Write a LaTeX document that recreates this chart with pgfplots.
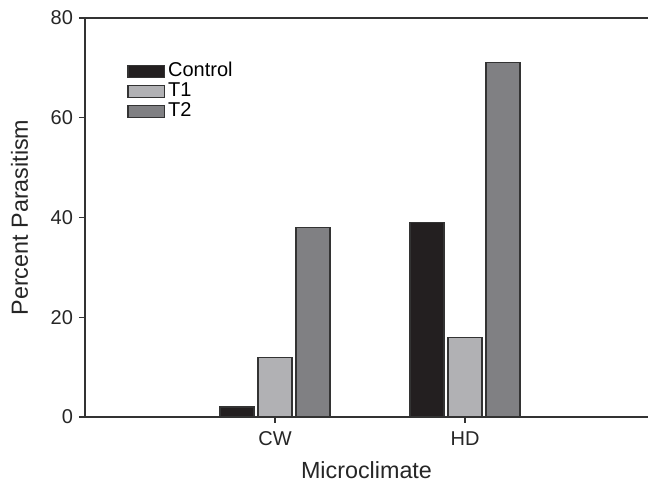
\documentclass[border=0pt]{standalone}
\usepackage{fontspec}
\setmainfont{Liberation Sans}
\usepackage{pgfplots}
\pgfplotsset{compat=1.18}
\definecolor{cctrl}{HTML}{231F20}
\definecolor{ct1}{HTML}{B1B1B4}
\definecolor{ct2}{HTML}{808083}
\definecolor{edge}{HTML}{333333}
\begin{document}
\begin{tikzpicture}
\begin{axis}[
  name=ax,
  scale only axis,
  width=422.25pt, height=299.25pt,
  /pgf/number format/assume math mode=true,
  separate axis lines,
  axis x line=box,
  axis y line=left,
  axis line style={line width=1pt, color=edge, -},
  xmin=-1.0, xmax=1.963,
  ymin=0, ymax=80,
  ytick={0,20,40,60,80},
  xtick={0,1},
  xticklabels={CW,HD},
  tick align=outside,
  tick pos=left,
  major tick length=4.5pt,
  tick style={line width=0.8pt, color=edge},
  ticklabel style={font=\fontsize{15}{17}\selectfont, text=black!85},
  yticklabel style={xshift=-1pt},
  xticklabel style={yshift=-3pt},
  xlabel={Microclimate},
  ylabel={Percent Parasitism},
  label style={font=\fontsize{17.5}{20}\selectfont, text=black!85},
  xlabel style={yshift=-5pt},
  ylabel style={yshift=10pt},
  ybar, bar width=0.179, bar shift auto=false,
  legend cell align=left,
  legend style={at={(0.075,0.892)}, anchor=north west, draw=none, fill=none,
    font=\fontsize{15}{17}\selectfont, row sep=0pt, inner sep=0pt,
    nodes={text height=10.5pt, text depth=2.5pt, inner ysep=1pt, inner xsep=2.2pt},
    /tikz/every even column/.append style={column sep=0pt}},
  legend image code/.code={\draw[#1, line width=0.8pt] (0pt,-4.5pt) rectangle (27.5pt,4.5pt);},
]
\addplot[fill=cctrl, draw=edge, line width=0.8pt, bar shift=-0.2] coordinates {(0,2) (1,39)};
\addplot[fill=ct1, draw=edge, line width=0.8pt, bar shift=0] coordinates {(0,12) (1,16)};
\addplot[fill=ct2, draw=edge, line width=0.8pt, bar shift=0.2] coordinates {(0,38) (1,71)};
\legend{Control,T1,T2}
\end{axis}
\pgfresetboundingbox
\path ([shift={(-63.75pt,-49.5pt)}]ax.south west) rectangle ([shift={(0pt,13.5pt)}]ax.north east);
\end{tikzpicture}
\end{document}
